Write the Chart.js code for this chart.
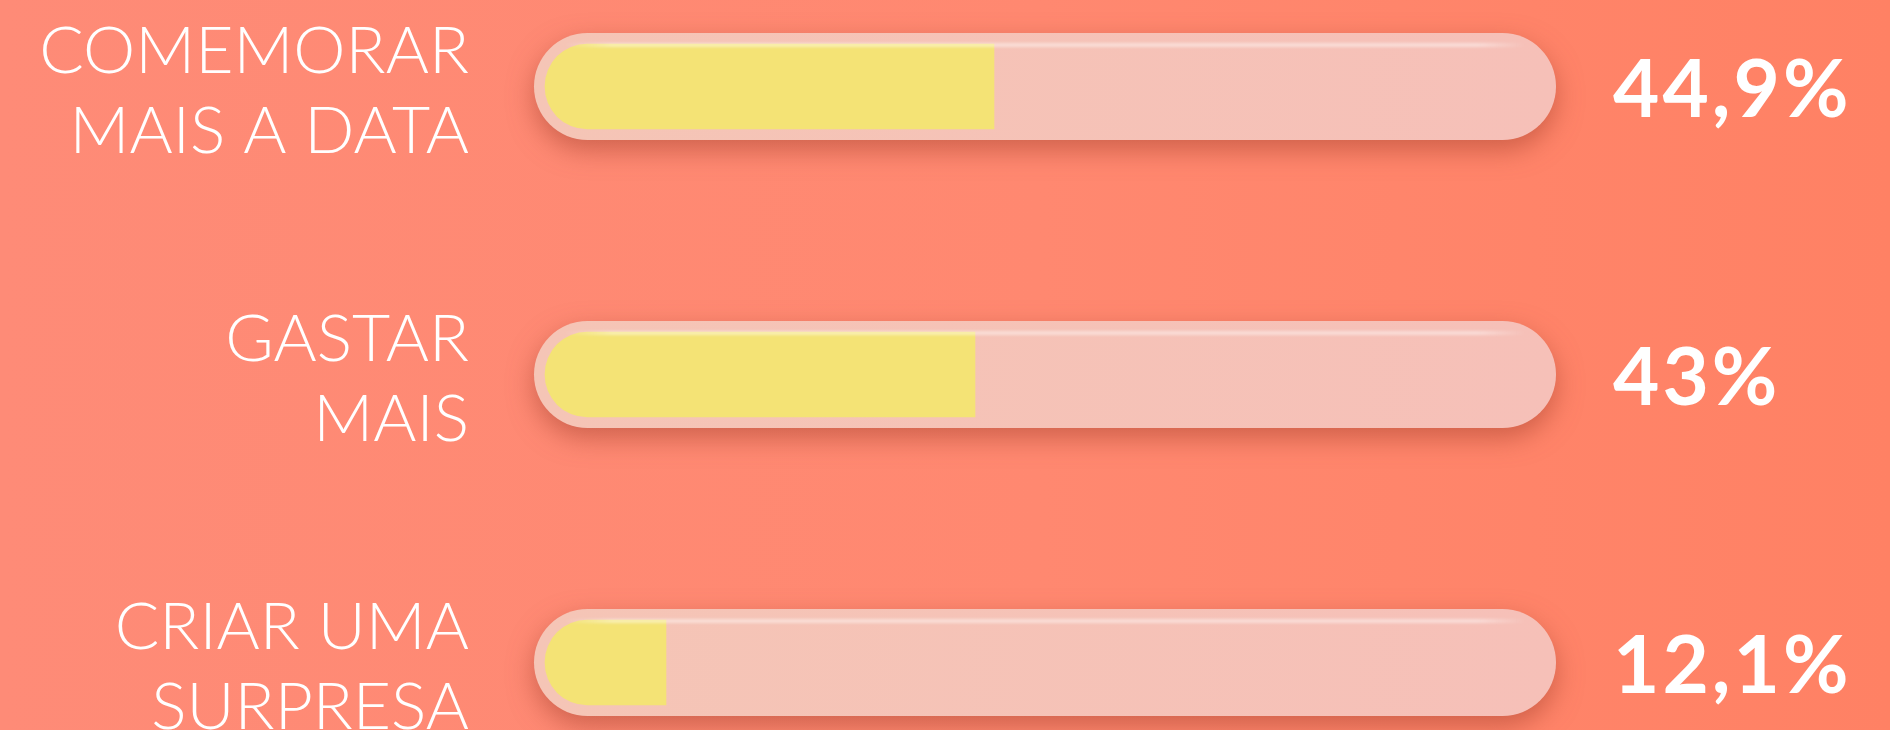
<!DOCTYPE html>
<html lang="pt">
<head>
  <meta charset="UTF-8">
  <title>Dia dos Namorados</title>
  <style>
    html, body {
      margin: 0;
      padding: 0;
    }
    body {
      width: 1890px;
      height: 730px;
      overflow: hidden;
      background: linear-gradient(90deg, #fe8b77 0%, #ff8870 55%, #ff8164 100%);
    }
  </style>
  <script src="https://cdn.jsdelivr.net/npm/chart.js"></script>
</head>
<body>
  <canvas id="chart" width="1890" height="730"></canvas>

  <script>
    const categories = [
      ['COMEMORAR', 'MAIS A DATA'],
      ['GASTAR', 'MAIS'],
      ['CRIAR UMA', 'SURPRESA']
    ];
    const values = [44.9, 43, 12.1];
    const valueLabels = ['44,9%', '43%', '12,1%'];
    const scaleMax = 100;

    const labelFont = 'Lato';
    const trackPad = 11;

    // pill-shaped track behind each bar, with a soft drop shadow
    const trackPlugin = {
      id: 'track',
      beforeDatasetsDraw(chart) {
        const ctx = chart.ctx;
        const x = chart.scales.x;
        const meta = chart.getDatasetMeta(0);
        meta.data.forEach((bar) => {
          const h = bar.height + trackPad * 2;
          const left = x.getPixelForValue(0) - trackPad;
          const right = x.getPixelForValue(scaleMax) + trackPad;
          const top = bar.y - h / 2;
          const r = h / 2;
          ctx.save();
          ctx.shadowColor = 'rgba(160, 60, 40, 0.5)';
          ctx.shadowBlur = 26;
          ctx.shadowOffsetY = 10;
          const g = ctx.createLinearGradient(left, 0, right, 0);
          g.addColorStop(0, '#f5c5b6');
          g.addColorStop(1, '#f6c0b8');
          ctx.fillStyle = g;
          ctx.beginPath();
          ctx.roundRect(left, top, right - left, h, r);
          ctx.fill();
          ctx.restore();
        });
      },
      afterDatasetsDraw(chart) {
        const ctx = chart.ctx;
        const x = chart.scales.x;
        const meta = chart.getDatasetMeta(0);
        meta.data.forEach((bar, i) => {
          const h = bar.height + trackPad * 2;
          const left = x.getPixelForValue(0) - trackPad;
          const right = x.getPixelForValue(scaleMax) + trackPad;
          const top = bar.y - h / 2;
          // glossy highlight line near the top
          ctx.save();
          const g = ctx.createLinearGradient(left + 30, 0, right - 30, 0);
          g.addColorStop(0, 'rgba(255,255,255,0)');
          g.addColorStop(0.05, 'rgba(255,255,255,0.45)');
          g.addColorStop(0.95, 'rgba(255,255,255,0.45)');
          g.addColorStop(1, 'rgba(255,255,255,0)');
          ctx.fillStyle = g;
          ctx.filter = 'blur(1.5px)';
          ctx.fillRect(left + 30, top + trackPad - 1, right - left - 60, 4);
          ctx.restore();

          // value text
          ctx.save();
          ctx.fillStyle = '#ffffff';
          ctx.font = 'bold 80px ' + labelFont;
          ctx.letterSpacing = '3px';
          ctx.textAlign = 'left';
          ctx.textBaseline = 'middle';
          ctx.fillText(valueLabels[i], x.getPixelForValue(scaleMax) + 68, bar.y + 5);
          ctx.restore();
        });
      }
    };

    const ctx = document.getElementById('chart').getContext('2d');
    const chart = new Chart(ctx, {
      type: 'bar',
      data: {
        labels: categories,
        datasets: [{
          data: values,
          backgroundColor: '#f4e375',
          borderRadius: { topLeft: 43, bottomLeft: 43, topRight: 0, bottomRight: 0 },
          borderSkipped: false,
          barThickness: 85,
          clip: false
        }]
      },
      options: {
        indexAxis: 'y',
        responsive: false,
        animation: false,
        layout: {
          padding: { top: 86.5, bottom: 67.5, right: 345, left: 0 }
        },
        scales: {
          x: {
            display: false,
            min: 0,
            max: scaleMax
          },
          y: {
            offset: false,
            grid: { display: false },
            border: { display: false },
            afterFit: (scale) => {
              scale.width = 545;
              scale.paddingTop = 0;
              scale.paddingBottom = 0;
            },
            ticks: {
              color: '#ffffff',
              padding: 68,
              labelOffset: 5,
              font: { family: labelFont, size: 66, weight: '300', lineHeight: 80 / 66 }
            }
          }
        },
        plugins: {
          legend: { display: false },
          tooltip: { enabled: false }
        }
      },
      plugins: [trackPlugin]
    });
  </script>
</body>
</html>
